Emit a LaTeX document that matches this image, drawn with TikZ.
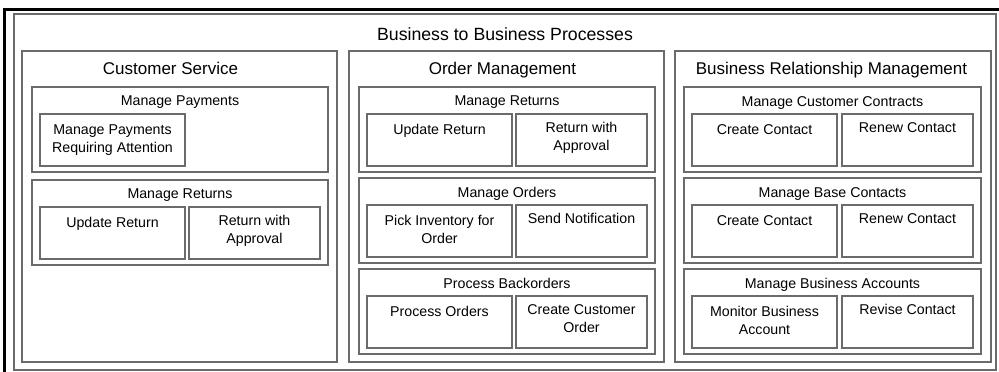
\documentclass[tikz,border=0pt]{standalone}
\usepackage{fontspec}
\setmainfont{Liberation Sans}
\usetikzlibrary{positioning}
\colorlet{linegray}{black!58}

\begin{document}
\begin{tikzpicture}[x=1pt, y=-1pt,
  box/.style={draw=linegray, line width=1.7pt, inner sep=0pt, outer sep=0pt, anchor=north west},
  col box/.style={box, minimum width=315pt, minimum height=311pt},
  grp box/.style={box, minimum width=296pt, minimum height=85pt},
  left task/.style={box, minimum width=145pt, minimum height=52pt},
  right task/.style={box, minimum width=131pt, minimum height=52pt},
  big title/.style={inner sep=0pt, font=\fontsize{17}{20}\selectfont},
  small title/.style={inner sep=0pt, align=center, font=\fontsize{14.2}{18}\selectfont}]
  \useasboundingbox (0,0) rectangle (999,372);
  \draw[line width=3pt] (999,9.5) -- (4.5,9.5) -- (4.5,372);

  \node[box, minimum width=982pt, minimum height=356pt] (b2b) at (14,14) {};
  \node[big title, font=\fontsize{17.7}{20}\selectfont, below=13pt of b2b.north] (b2bt) {Business to Business Processes};

  % customer service
  \node[col box] (cs) at (22,51) {};
  \node[big title, below=11pt of cs.north, xshift=-9pt] (cst) {Customer Service};
  \node[grp box, below right=36pt and 10pt of cs.north west] (1) {};
  \node[small title, below=9pt of 1.north] (1t) {Manage Payments};
  \node[left task, below right=27pt and 8pt of 1.north west] (11) {};
  \node[small title, below=10.5pt of 11.north] (11t) {Manage Payments\\Requiring Attention};
  \node[grp box, below=8pt of 1] (2) {};
  \node[small title, below=9pt of 2.north] (2t) {Manage Returns};
  \node[left task, below right=27pt and 8pt of 2.north west] (21) {};
  \node[small title, below=10.5pt of 21.north] (21t) {Update Return};
  \node[right task, right=4pt of 21] (22) {};
  \node[small title, below=8pt of 22.north] (22t) {Return with\\Approval};

  % order management
  \node[col box] (om) at (349,51) {};
  \node[big title, below=11pt of om.north, xshift=-4pt] (omt) {Order Management};
  \node[grp box, below right=36pt and 10pt of om.north west] (3) {};
  \node[small title, below=9pt of 3.north] (3t) {Manage Returns};
  \node[left task, below right=27pt and 8pt of 3.north west] (31) {};
  \node[small title, below=10.5pt of 31.north] (31t) {Update Return};
  \node[right task, right=4pt of 31] (32) {};
  \node[small title, below=8pt of 32.north] (32t) {Return with\\Approval};
  \node[grp box, below=6pt of 3] (4) {};
  \node[small title, below=9pt of 4.north] (4t) {Manage Orders};
  \node[left task, below right=27pt and 8pt of 4.north west] (41) {};
  \node[small title, below=10.5pt of 41.north] (41t) {Pick Inventory for\\Order};
  \node[right task, right=4pt of 41] (42) {};
  \node[small title, below=8pt of 42.north] (42t) {Send Notification};
  \node[grp box, below=6pt of 4] (5) {};
  \node[small title, below=9pt of 5.north] (5t) {Process Backorders};
  \node[left task, below right=27pt and 8pt of 5.north west] (51) {};
  \node[small title, below=10.5pt of 51.north] (51t) {Process Orders};
  \node[right task, right=4pt of 51] (52) {};
  \node[small title, below=8pt of 52.north] (52t) {Create Customer\\Order};

  % business relationship management
  \node[col box, minimum width=316pt] (brm) at (675,51) {};
  \node[big title, below=11pt of brm.north, xshift=-1.5pt] (brmt) {Business Relationship Management};
  \node[grp box, minimum width=297pt, below right=36pt and 9pt of brm.north west] (6) {};
  \node[small title, below=9pt of 6.north] (6t) {Manage Customer Contracts};
  \node[left task, below right=27pt and 8pt of 6.north west] (61) {};
  \node[small title, below=10.5pt of 61.north] (61t) {Create Contact};
  \node[right task, right=5pt of 61] (62) {};
  \node[small title, below=8pt of 62.north] (62t) {Renew Contact};
  \node[grp box, minimum width=297pt, below=6pt of 6] (7) {};
  \node[small title, below=9pt of 7.north] (7t) {Manage Base Contacts};
  \node[left task, below right=27pt and 8pt of 7.north west] (71) {};
  \node[small title, below=10.5pt of 71.north] (71t) {Create Contact};
  \node[right task, right=5pt of 71] (72) {};
  \node[small title, below=8pt of 72.north] (72t) {Renew Contact};
  \node[grp box, minimum width=297pt, below=6pt of 7] (8) {};
  \node[small title, below=9pt of 8.north] (8t) {Manage Business Accounts};
  \node[left task, below right=27pt and 8pt of 8.north west] (81) {};
  \node[small title, below=10.5pt of 81.north] (81t) {Monitor Business\\Account};
  \node[right task, right=5pt of 81] (82) {};
  \node[small title, below=8pt of 82.north] (82t) {Revise Contact};
\end{tikzpicture}
\end{document}
